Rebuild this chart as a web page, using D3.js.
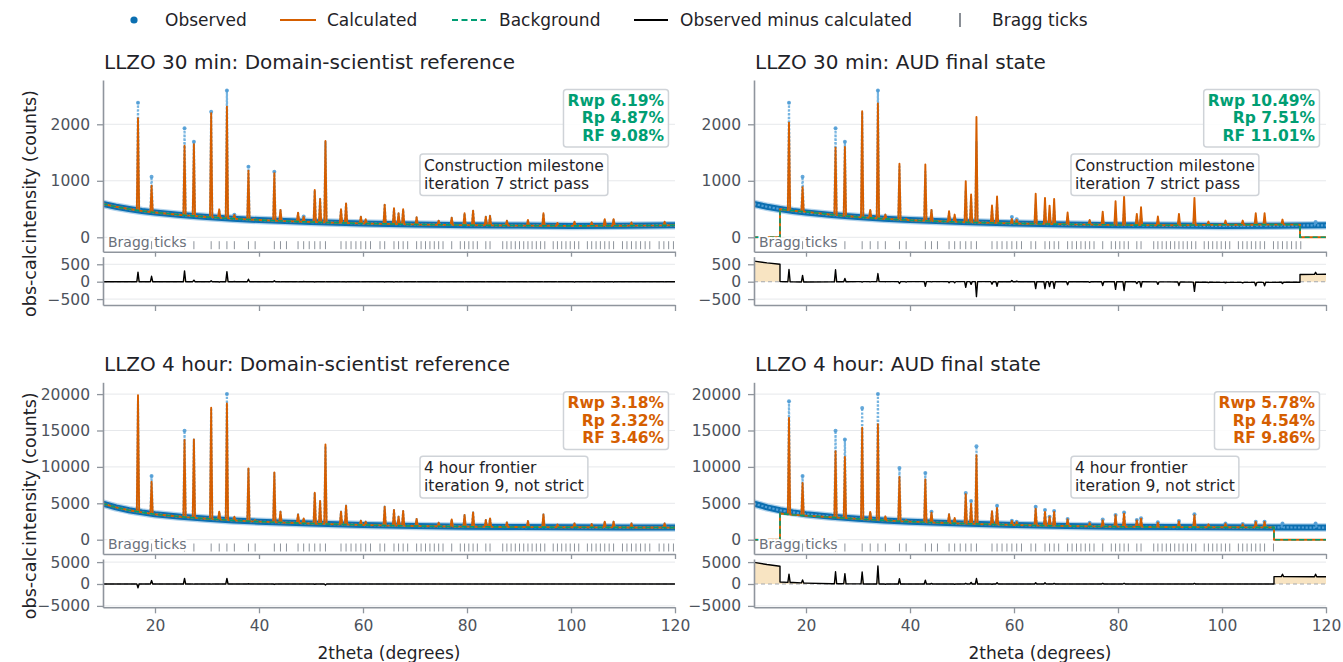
<!DOCTYPE html>
<html>
<head>
<meta charset="utf-8">
<script src="https://cdn.jsdelivr.net/npm/d3@7"></script>
<style>
  body { margin: 0; background: #fff; }
  svg text { font-family: "DejaVu Sans", sans-serif; }
</style>
</head>
<body>
<svg id="fig" width="1343" height="662"></svg>
<script>
// ---- data ----
const PEAK_POS = [16.73, 19.34, 25.68, 27.48, 30.80, 32.35, 33.83, 35.26, 37.97, 39.26,
  42.95, 44.13, 47.51, 48.59, 50.72, 51.75, 52.78, 55.77, 56.74, 59.59, 60.52, 64.17,
  65.96, 66.84, 67.72, 70.31, 74.55, 77.06, 79.53, 81.17, 83.62, 84.43, 87.67, 91.72,
  94.70, 97.39, 100.67, 103.98, 106.49, 108.19, 111.63, 118.0];

// 30 min data
const OBS_30_TOP = [2380, 1070, 1930, 1690, 2220, 480, 2600, 400, 1250, 320,
  1160, 480, 430, 370, 830, 680, 1700, 490, 590, 360, 320, 570,
  500, 420, 490, 350, 290, 345, 420, 470, 360, 380, 290, 300,
  420, 250, 265, 260, 310, 310, 260, 270];
const REF_30_CALC = [2106, 915, 1620, 1646, 2195, 495, 2313, 395, 1180, 320,
  1133, 484, 437, 366, 838, 679, 1705, 496, 600, 366, 320, 578,
  513, 425, 496, 354, 295, 348, 425, 472, 366, 380, 295, 307,
  425, 255, 277, 265, 320, 320, 262, 275];
const AUD_30_CALC = [2030, 888, 1586, 1598, 2231, 485, 2367, 402, 1302, 330,
  1290, 485, 462, 402, 994, 757, 2130, 562, 722, 325, 308, 770,
  698, 560, 680, 438, 308, 455, 639, 722, 414, 532, 367, 414,
  698, 278, 296, 296, 426, 426, 314, null];
const BG_30_OBS = [[10, 590], [12.5, 540], [15, 500], [17.5, 465], [20, 440], [25, 395],
  [30, 360], [35, 330], [40, 305], [50, 270], [60, 245], [70, 228], [80, 215],
  [90, 207], [100, 202], [110, 205], [120, 212]];
const BG_30_AUD = [[15, 497], [17.5, 470], [20, 450], [25, 400], [30, 358], [35, 328],
  [40, 302], [50, 268], [60, 246], [70, 230], [80, 218], [90, 212], [100, 222], [115, 225]];

// 4 hour data
const OBS_4H_TOP = [19000, 8740, 14970, 13750, 18100, 3845, 20000, 3160, 9850, 2700,
  9150, 3845, 3480, 2930, 6400, 5310, 12850, 3845, 4670, 2610, 2470, 4530,
  4070, 3160, 3940, 2840, 2330, 2790, 3390, 3750, 2700, 2930, 2380, 2560,
  3480, 2100, 2240, 2150, 2470, 2470, 2240, 2240];
const REF_4H_CALC = [19860, 7960, 13690, 13780, 18130, 3845, 18720, 3160, 9800, 2700,
  9250, 3845, 3480, 2930, 6450, 5310, 13090, 3845, 4670, 2610, 2470, 4530,
  4070, 3160, 3940, 2840, 2330, 2790, 3390, 3750, 2700, 2930, 2380, 2560,
  3480, 2100, 2240, 2150, 2470, 2470, 2240, 2240];
const AUD_4H_CALC = [16740, 7800, 12160, 11380, 15370, 3810, 15870, 3210, 8620, 2700,
  8260, 3720, 3490, 2980, 6240, 4950, 11600, 3900, 4360, 2570, 2430, 4270,
  3810, 3120, 3810, 2800, 2290, 2660, 3350, 3580, 2660, 2890, 2340, 2520,
  3350, 2110, 2200, 2110, 2430, 2430, null, null];
const BG_4H_OBS = [[10, 4950], [12.5, 4450], [15, 4050], [17.5, 3750], [20, 3500], [25, 3150],
  [30, 2880], [35, 2650], [40, 2480], [50, 2220], [60, 2020], [70, 1880], [80, 1790],
  [90, 1740], [100, 1710], [110, 1690], [120, 1660]];
const BG_4H_AUD = [[15, 3600], [17.5, 3420], [20, 3300], [25, 3080], [30, 2860], [35, 2650],
  [40, 2480], [50, 2220], [60, 2020], [70, 1880], [80, 1790], [90, 1740], [100, 1710], [110, 1690]];

const BRAGG = [16.73, 19.34, 25.68, 27.48, 30.80, 32.35, 33.83, 35.26, 37.97, 39.26, 42.95,
  44.13, 45.28, 47.51, 48.59, 49.66, 50.72, 51.75, 52.78, 55.77, 56.74, 57.70, 58.64, 59.59,
  60.52, 61.44, 63.27, 64.17, 65.96, 66.84, 67.72, 68.59, 70.31, 71.17, 72.02, 72.87, 73.71,
  74.55, 75.39, 77.06, 78.71, 79.53, 80.35, 81.17, 81.99, 83.62, 84.43, 86.87, 87.67, 88.48,
  89.29, 90.10, 90.91, 91.72, 92.52, 93.33, 94.15, 94.96, 96.58, 97.39, 98.21, 99.03, 99.85,
  100.67, 101.49, 103.15, 103.98, 104.82, 105.65, 106.49, 107.34, 108.19, 109.90, 110.76,
  111.63, 112.50, 113.38, 114.26, 115.15, 116.95, 117.86, 118.78, 119.70];

const X_TICKS = [20, 40, 60, 80, 100, 120];
const Y_TICKS = [[0, 1000, 2000], [0, 5000, 10000, 15000, 20000]];
const RES_TICKS = [[-500, 0, 500], [-5000, 0, 5000]];

const TITLES = ["LLZO 30 min: Domain-scientist reference", "LLZO 30 min: AUD final state",
  "LLZO 4 hour: Domain-scientist reference", "LLZO 4 hour: AUD final state"];
const R_TEXT = [["Rwp 6.19%", "Rp 4.87%", "RF 9.08%"], ["Rwp 10.49%", "Rp 7.51%", "RF 11.01%"],
  ["Rwp 3.18%", "Rp 2.32%", "RF 3.46%"], ["Rwp 5.78%", "Rp 4.54%", "RF 9.86%"]];
const NOTES = [["Construction milestone", "iteration 7 strict pass"],
  ["4 hour frontier", "iteration 9, not strict"]];
const LEGEND = ["Observed", "Calculated", "Background", "Observed minus calculated", "Bragg ticks"];

// ---- layout ----
const FONT = "DejaVu Sans, sans-serif";
const LEFTS = [103, 754];
const PW = 572;
const ROW_TOPS = [80, 382.3];
const MAIN_H = 171.7, GAP = 5, RES_H = 48.3;
const MAIN_DOM = [[-255, 2784], [-1964, 21620]];
const RES_DOM = [[-670, 718], [-5320, 5708]];
const C_OBS = "#0b6fb1", C_CALC = "#d55e00", C_BG = "#009e73";
const SPINE = "#8f959d", TICK_TXT = "#4d535c", GRID = "#e6e8eb", DARK = "#1f2328";
const DELTA = 0.22;
const fmt = d3.format("d");

const svg = d3.select("#fig");

function bgFn(bg) { return d3.scaleLinear(bg.map(d => d[0]), bg.map(d => d[1])); }

function buildProfile(bg, heights, lo, hi) {
  const f = bgFn(bg);
  const pts = bg.filter(k => !PEAK_POS.some(p => Math.abs(p - k[0]) <= DELTA + 0.01))
    .map(k => [k[0], k[1]]);
  PEAK_POS.forEach((p, i) => {
    const h = heights[i];
    if (h == null || p < lo || p > hi) return;
    pts.push([p - DELTA, f(p - DELTA)], [p, h], [p + DELTA, f(p + DELTA)]);
  });
  return pts.sort((a, b) => a[0] - b[0]);
}

function withZeroEnds(pts, lo, hi) {
  return [[10, 0], [lo - 0.001, 0]].concat(pts, [[hi + 0.001, 0], [120, 0]]);
}

const PANELS = [
  { col: 0, row: 0, obsTop: OBS_30_TOP, obsBg: BG_30_OBS, calc: REF_30_CALC, bg: BG_30_OBS, lo: 10, hi: 120, aud: false },
  { col: 1, row: 0, obsTop: OBS_30_TOP, obsBg: BG_30_OBS, calc: AUD_30_CALC, bg: BG_30_AUD, lo: 15, hi: 115, aud: true },
  { col: 0, row: 1, obsTop: OBS_4H_TOP, obsBg: BG_4H_OBS, calc: REF_4H_CALC, bg: BG_4H_OBS, lo: 10, hi: 120, aud: false },
  { col: 1, row: 1, obsTop: OBS_4H_TOP, obsBg: BG_4H_OBS, calc: AUD_4H_CALC, bg: BG_4H_AUD, lo: 15, hi: 110, aud: true }
];

function styleAxis(g) {
  g.attr("font-family", FONT).attr("font-size", 15.5);
  g.select(".domain").attr("stroke", SPINE).attr("stroke-width", 1.6);
  g.selectAll(".tick line").attr("stroke", SPINE).attr("stroke-width", 1.3);
  g.selectAll(".tick text").attr("fill", TICK_TXT);
}

PANELS.forEach((p, idx) => {
  const x0 = LEFTS[p.col], y0 = ROW_TOPS[p.row];
  const x = d3.scaleLinear([10, 120], [x0, x0 + PW]);
  const y = d3.scaleLinear(MAIN_DOM[p.row], [y0 + MAIN_H, y0]);
  const ry0 = y0 + MAIN_H + GAP;
  const yr = d3.scaleLinear(RES_DOM[p.row], [ry0 + RES_H, ry0]);
  const g = svg.append("g");

  // profiles
  const obsPts = buildProfile(p.obsBg, p.obsTop, 10, 120);
  let calcPts = buildProfile(p.bg, p.calc, p.lo, p.hi);
  let bgPts = p.bg.map(d => [d[0], d[1]]);
  if (p.aud) {
    calcPts = withZeroEnds(calcPts, p.lo, p.hi);
    bgPts = withZeroEnds(bgPts, p.lo, p.hi);
  }
  const obsF = d3.scaleLinear(obsPts.map(d => d[0]), obsPts.map(d => d[1]));
  const calcF = d3.scaleLinear(calcPts.map(d => d[0]), calcPts.map(d => d[1]));
  const xs = Array.from(new Set(obsPts.map(d => d[0]).concat(calcPts.map(d => d[0])))).sort((a, b) => a - b);
  const resid = xs.map(v => [v, obsF(v) - calcF(v)]);

  // title
  g.append("text").attr("x", x0 + 1).attr("y", y0 - 11)
    .attr("font-size", 20).attr("fill", DARK).text(TITLES[idx]);

  // gridlines
  g.selectAll(".gm").data(Y_TICKS[p.row]).join("line")
    .attr("x1", x0).attr("x2", x0 + PW).attr("y1", d => y(d)).attr("y2", d => y(d))
    .attr("stroke", GRID).attr("stroke-width", 1);
  g.selectAll(".gr").data(RES_TICKS[p.row].filter(d => d !== 0)).join("line")
    .attr("x1", x0).attr("x2", x0 + PW).attr("y1", d => yr(d)).attr("y2", d => yr(d))
    .attr("stroke", GRID).attr("stroke-width", 1);

  const clipId = "clip" + idx;
  svg.append("clipPath").attr("id", clipId).append("rect")
    .attr("x", x0).attr("y", y0).attr("width", PW).attr("height", MAIN_H);
  const plot = g.append("g").attr("clip-path", `url(#${clipId})`);
  const line = d3.line().x(d => x(d[0])).y(d => y(d[1]));

  // observed: dense band + peak stems + top points
  plot.append("path").attr("d", line(p.obsBg)).attr("fill", "none")
    .attr("stroke", "#3d8fcc").attr("stroke-opacity", 0.4).attr("stroke-width", 8.5)
    .attr("stroke-linecap", "round").attr("stroke-linejoin", "round");
  plot.append("path").attr("d", line(p.obsBg)).attr("fill", "none")
    .attr("stroke", C_OBS).attr("stroke-width", 6)
    .attr("stroke-linecap", "round").attr("stroke-linejoin", "round");
  plot.append("path").attr("d", line(obsPts)).attr("fill", "none")
    .attr("stroke", "#5ea7db").attr("stroke-opacity", 0.85).attr("stroke-width", 2.2)
    .attr("stroke-dasharray", "2.2,1.6").attr("stroke-linejoin", "round");
  const tops = PEAK_POS.map((v, i) => [v, p.obsTop[i], p.calc[i]])
    .filter(d => d[2] == null || d[1] > d[2] * 1.01);
  plot.selectAll(".od").data(tops).join("circle")
    .attr("cx", d => x(d[0])).attr("cy", d => y(d[1])).attr("r", 2)
    .attr("fill", "#4b9ad4").attr("fill-opacity", 0.85);

  // calculated
  plot.append("path").attr("d", line(calcPts)).attr("fill", "none")
    .attr("stroke", C_CALC).attr("stroke-width", 1.9).attr("stroke-linejoin", "round");
  // background
  plot.append("path").attr("d", line(bgPts)).attr("fill", "none")
    .attr("stroke", C_BG).attr("stroke-width", 1.6).attr("stroke-dasharray", "5,3");

  // Bragg ticks
  const yb = y0 + MAIN_H;
  g.selectAll(".bt").data(BRAGG.filter(v => v >= p.lo && v <= p.hi + 0.2)).join("line")
    .attr("x1", d => x(d)).attr("x2", d => x(d)).attr("y1", yb - 10.5).attr("y2", yb - 2.5)
    .attr("stroke", "#8d939b").attr("stroke-width", 1);
  g.append("text").attr("x", x0 + 5).attr("y", yb - 5).attr("font-size", 14)
    .attr("fill", "#6b717a").attr("stroke", "#fff").attr("stroke-width", 4)
    .attr("paint-order", "stroke").attr("stroke-linejoin", "round").text(LEGEND[4]);

  // main axes
  g.append("g").attr("transform", `translate(${x0},0)`)
    .call(d3.axisLeft(y).tickValues(Y_TICKS[p.row]).tickFormat(fmt)
      .tickSize(6).tickPadding(7).tickSizeOuter(0))
    .call(styleAxis);
  g.append("g").attr("transform", `translate(0,${yb})`)
    .call(d3.axisBottom(x).tickValues(X_TICKS).tickFormat("").tickSize(5).tickSizeOuter(0))
    .call(styleAxis);

  // residual panel
  const rclip = "rclip" + idx;
  svg.append("clipPath").attr("id", rclip).append("rect")
    .attr("x", x0).attr("y", ry0).attr("width", PW).attr("height", RES_H);
  const rp = g.append("g").attr("clip-path", `url(#${rclip})`);
  rp.append("path").datum(resid)
    .attr("d", d3.area().x(d => x(d[0])).y0(yr(0)).y1(d => yr(d[1])))
    .attr("fill", "#f5d9a8").attr("fill-opacity", 0.7);
  rp.append("line").attr("x1", x0).attr("x2", x0 + PW).attr("y1", yr(0)).attr("y2", yr(0))
    .attr("stroke", "#a3a8ae").attr("stroke-width", 1.1).attr("stroke-dasharray", "4,3");
  rp.append("path").datum(resid)
    .attr("d", d3.line().x(d => x(d[0])).y(d => yr(d[1])))
    .attr("fill", "none").attr("stroke", "#000").attr("stroke-width", 1.4)
    .attr("stroke-linejoin", "round");

  g.append("g").attr("transform", `translate(${x0},0)`)
    .call(d3.axisLeft(yr).tickValues(RES_TICKS[p.row]).tickFormat(fmt)
      .tickSize(6).tickPadding(7).tickSizeOuter(0))
    .call(styleAxis);
  const xb = d3.axisBottom(x).tickValues(X_TICKS).tickSize(6).tickPadding(7).tickSizeOuter(0);
  if (p.row === 0) xb.tickFormat("");
  g.append("g").attr("transform", `translate(0,${ry0 + RES_H})`).call(xb).call(styleAxis);

  // R-factor box
  const rc = p.row === 0 ? C_BG : C_CALC;
  const rg = g.append("g");
  const rbox = rg.append("rect");
  rg.selectAll("text").data(R_TEXT[idx]).join("text")
    .attr("x", x0 + PW - 11).attr("y", (d, i) => y0 + 26 + i * 17.3)
    .attr("text-anchor", "end").attr("font-size", 15.5).attr("font-weight", "bold")
    .attr("fill", rc).text(d => d);
  const rb = rg.node().getBBox();
  rbox.attr("x", rb.x - 4).attr("y", rb.y - 2.5).attr("width", rb.width + 8).attr("height", rb.height + 5)
    .attr("rx", 3).attr("fill", "#fff").attr("fill-opacity", 0.85)
    .attr("stroke", "#cfd3d8").attr("stroke-width", 1.5);

  // note box
  const ng = g.append("g");
  const nbox = ng.append("rect");
  ng.selectAll("text").data(NOTES[p.row]).join("text")
    .attr("x", x0 + 321).attr("y", (d, i) => y0 + 91 + i * 17.6)
    .attr("font-size", 15.5).attr("fill", DARK).text(d => d);
  const nb = ng.node().getBBox();
  nbox.attr("x", nb.x - 4).attr("y", nb.y - 3).attr("width", nb.width + 8).attr("height", nb.height + 6)
    .attr("rx", 3).attr("fill", "#fff").attr("fill-opacity", 0.85)
    .attr("stroke", "#cfd3d8").attr("stroke-width", 1.5);

  // axis labels
  if (p.col === 0) {
    g.append("text").attr("transform", `translate(30,${y0 + MAIN_H / 2 + 1}) rotate(-90)`)
      .attr("text-anchor", "middle").attr("dominant-baseline", "central")
      .attr("font-size", 17.5).attr("fill", DARK).text("intensity (counts)");
    g.append("text").attr("transform", `translate(30,${ry0 + RES_H / 2}) rotate(-90)`)
      .attr("text-anchor", "middle").attr("dominant-baseline", "central")
      .attr("font-size", 17.5).attr("fill", DARK).text("obs-calc");
  }
  if (p.row === 1) {
    g.append("text").attr("x", x0 + PW / 2).attr("y", 659).attr("text-anchor", "middle")
      .attr("font-size", 17).attr("fill", DARK).text("2theta (degrees)");
  }
});

// legend
const leg = svg.append("g").attr("font-size", 17).attr("fill", DARK);
leg.append("circle").attr("cx", 134).attr("cy", 20).attr("r", 3.6).attr("fill", C_OBS);
leg.append("line").attr("x1", 280).attr("x2", 316).attr("y1", 20).attr("y2", 20)
  .attr("stroke", C_CALC).attr("stroke-width", 2.2);
leg.append("line").attr("x1", 452).attr("x2", 486).attr("y1", 20).attr("y2", 20)
  .attr("stroke", C_BG).attr("stroke-width", 2.2).attr("stroke-dasharray", "6,3.5");
leg.append("line").attr("x1", 634).attr("x2", 668).attr("y1", 20).attr("y2", 20)
  .attr("stroke", "#000").attr("stroke-width", 2.2);
leg.append("line").attr("x1", 960).attr("x2", 960).attr("y1", 13).attr("y2", 27)
  .attr("stroke", "#7d838b").attr("stroke-width", 1.8);
const LEG_X = [165, 327, 499, 680, 992];
leg.selectAll("text").data(LEGEND).join("text")
  .attr("x", (d, i) => LEG_X[i]).attr("y", 26).text(d => d);
</script>
</body>
</html>
